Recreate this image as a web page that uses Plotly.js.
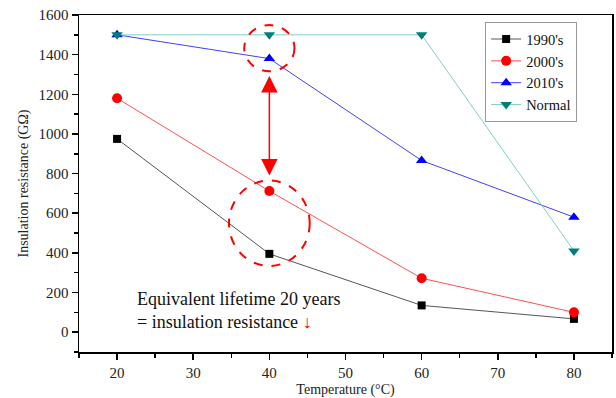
<!DOCTYPE html>
<html><head><meta charset="utf-8">
<script src="https://cdn.plot.ly/plotly-3.0.1.min.js"></script>
<style>html,body{margin:0;padding:0;background:#fff}#c{width:616px;height:398px}</style>
</head><body><div id="c"></div>
<script>
const temps = [20, 40, 60, 80];
const s1990 = [975, 395, 135, 67];
const s2000 = [1180, 712, 272, 100];
const s2010 = [1500, 1380, 866, 580];
const sNormal = [1500, 1500, 1500, 410];
const names = ["1990's", "2000's", "2010's", "Normal"];

const F = "'Liberation Serif', 'DejaVu Serif', serif";
const traces = [
  {x: temps, y: s1990, name: names[0], mode: 'lines+markers', line: {color: '#555555', width: 1}, marker: {symbol: 'square', color: '#000', size: 8}},
  {x: temps, y: s2000, name: names[1], mode: 'lines+markers', line: {color: '#ff5050', width: 1}, marker: {symbol: 'circle', color: '#ff0000', size: 10}},
  {x: temps, y: s2010, name: names[2], mode: 'lines+markers', line: {color: '#4040ff', width: 1}, marker: {symbol: 'triangle-up', color: '#0000ff', size: 10}},
  {x: temps, y: sNormal, name: names[3], mode: 'lines+markers', line: {color: '#7fcfc8', width: 1}, marker: {symbol: 'triangle-down', color: '#007f7a', size: 10}}
];

const layout = {
  width: 616, height: 398,
  margin: {l: 79, r: 4, t: 15, b: 46},
  paper_bgcolor: '#fff', plot_bgcolor: '#fff',
  font: {family: F, color: '#222'},
  showlegend: true,
  legend: {x: 0.762, y: 0.979, xanchor: 'left', yanchor: 'top', bordercolor: '#999', borderwidth: 1, bgcolor: '#fff',
    font: {family: F, size: 14.5, color: '#111'}, tracegroupgap: 0, itemwidth: 30},
  xaxis: {range: [15, 85], dtick: 10, tick0: 0, showgrid: false, zeroline: false, showline: true, linecolor: '#000', linewidth: 1.5,
    mirror: true, ticks: 'outside', ticklen: 6, tickwidth: 1.5, tickcolor: '#000',
    minor: {dtick: 5, ticks: 'outside', ticklen: 4, tickwidth: 1.5, tickcolor: '#000', showgrid: false},
    tickfont: {family: F, size: 15, color: '#222'},
    title: {text: 'Temperature (°C)', font: {family: F, size: 14, color: '#222'}, standoff: 6}},
  yaxis: {range: [-100, 1600], dtick: 200, tick0: 0, showgrid: false, zeroline: false, showline: true, linecolor: '#000', linewidth: 1.5,
    mirror: true, ticks: 'outside', ticklen: 6, tickwidth: 1.5, tickcolor: '#000',
    minor: {dtick: 100, ticks: 'outside', ticklen: 4, tickwidth: 1.5, tickcolor: '#000', showgrid: false},
    tickfont: {family: F, size: 15, color: '#222'},
    title: {text: 'Insulation resistance (GΩ)', font: {family: F, size: 14, color: '#222'}, standoff: 6}},
  shapes: [
    {type: 'circle', xref: 'x', yref: 'y', x0: 36.7, x1: 43.3, y0: 1316, y1: 1549, line: {color: '#ff0000', width: 2, dash: 'dash'}},
    {type: 'circle', xref: 'x', yref: 'y', x0: 34.7, x1: 45.3, y0: 334, y1: 765, line: {color: '#ff0000', width: 2, dash: 'dash'}}
  ],
  annotations: [
    {xref: 'x', yref: 'y', x: 40, y: 790, axref: 'x', ayref: 'y', ax: 40, ay: 1300, showarrow: true,
      arrowhead: 2, arrowside: 'end+start', arrowsize: 2.2, arrowwidth: 1.5, arrowcolor: '#ff0000', text: ''},
    {xref: 'x', yref: 'y', x: 22.3, y: 165, xanchor: 'left', yanchor: 'middle', showarrow: false,
      text: 'Equivalent lifetime 20 years', font: {family: F, size: 18, color: '#111'}},
    {xref: 'x', yref: 'y', x: 22.3, y: 50, xanchor: 'left', yanchor: 'middle', showarrow: false,
      text: '= insulation resistance <span style="color:#ff0000">↓</span>', font: {family: F, size: 18, color: '#111'}}
  ]
};
Plotly.newPlot('c', traces, layout, {displayModeBar: false, staticPlot: true});
</script></body></html>
